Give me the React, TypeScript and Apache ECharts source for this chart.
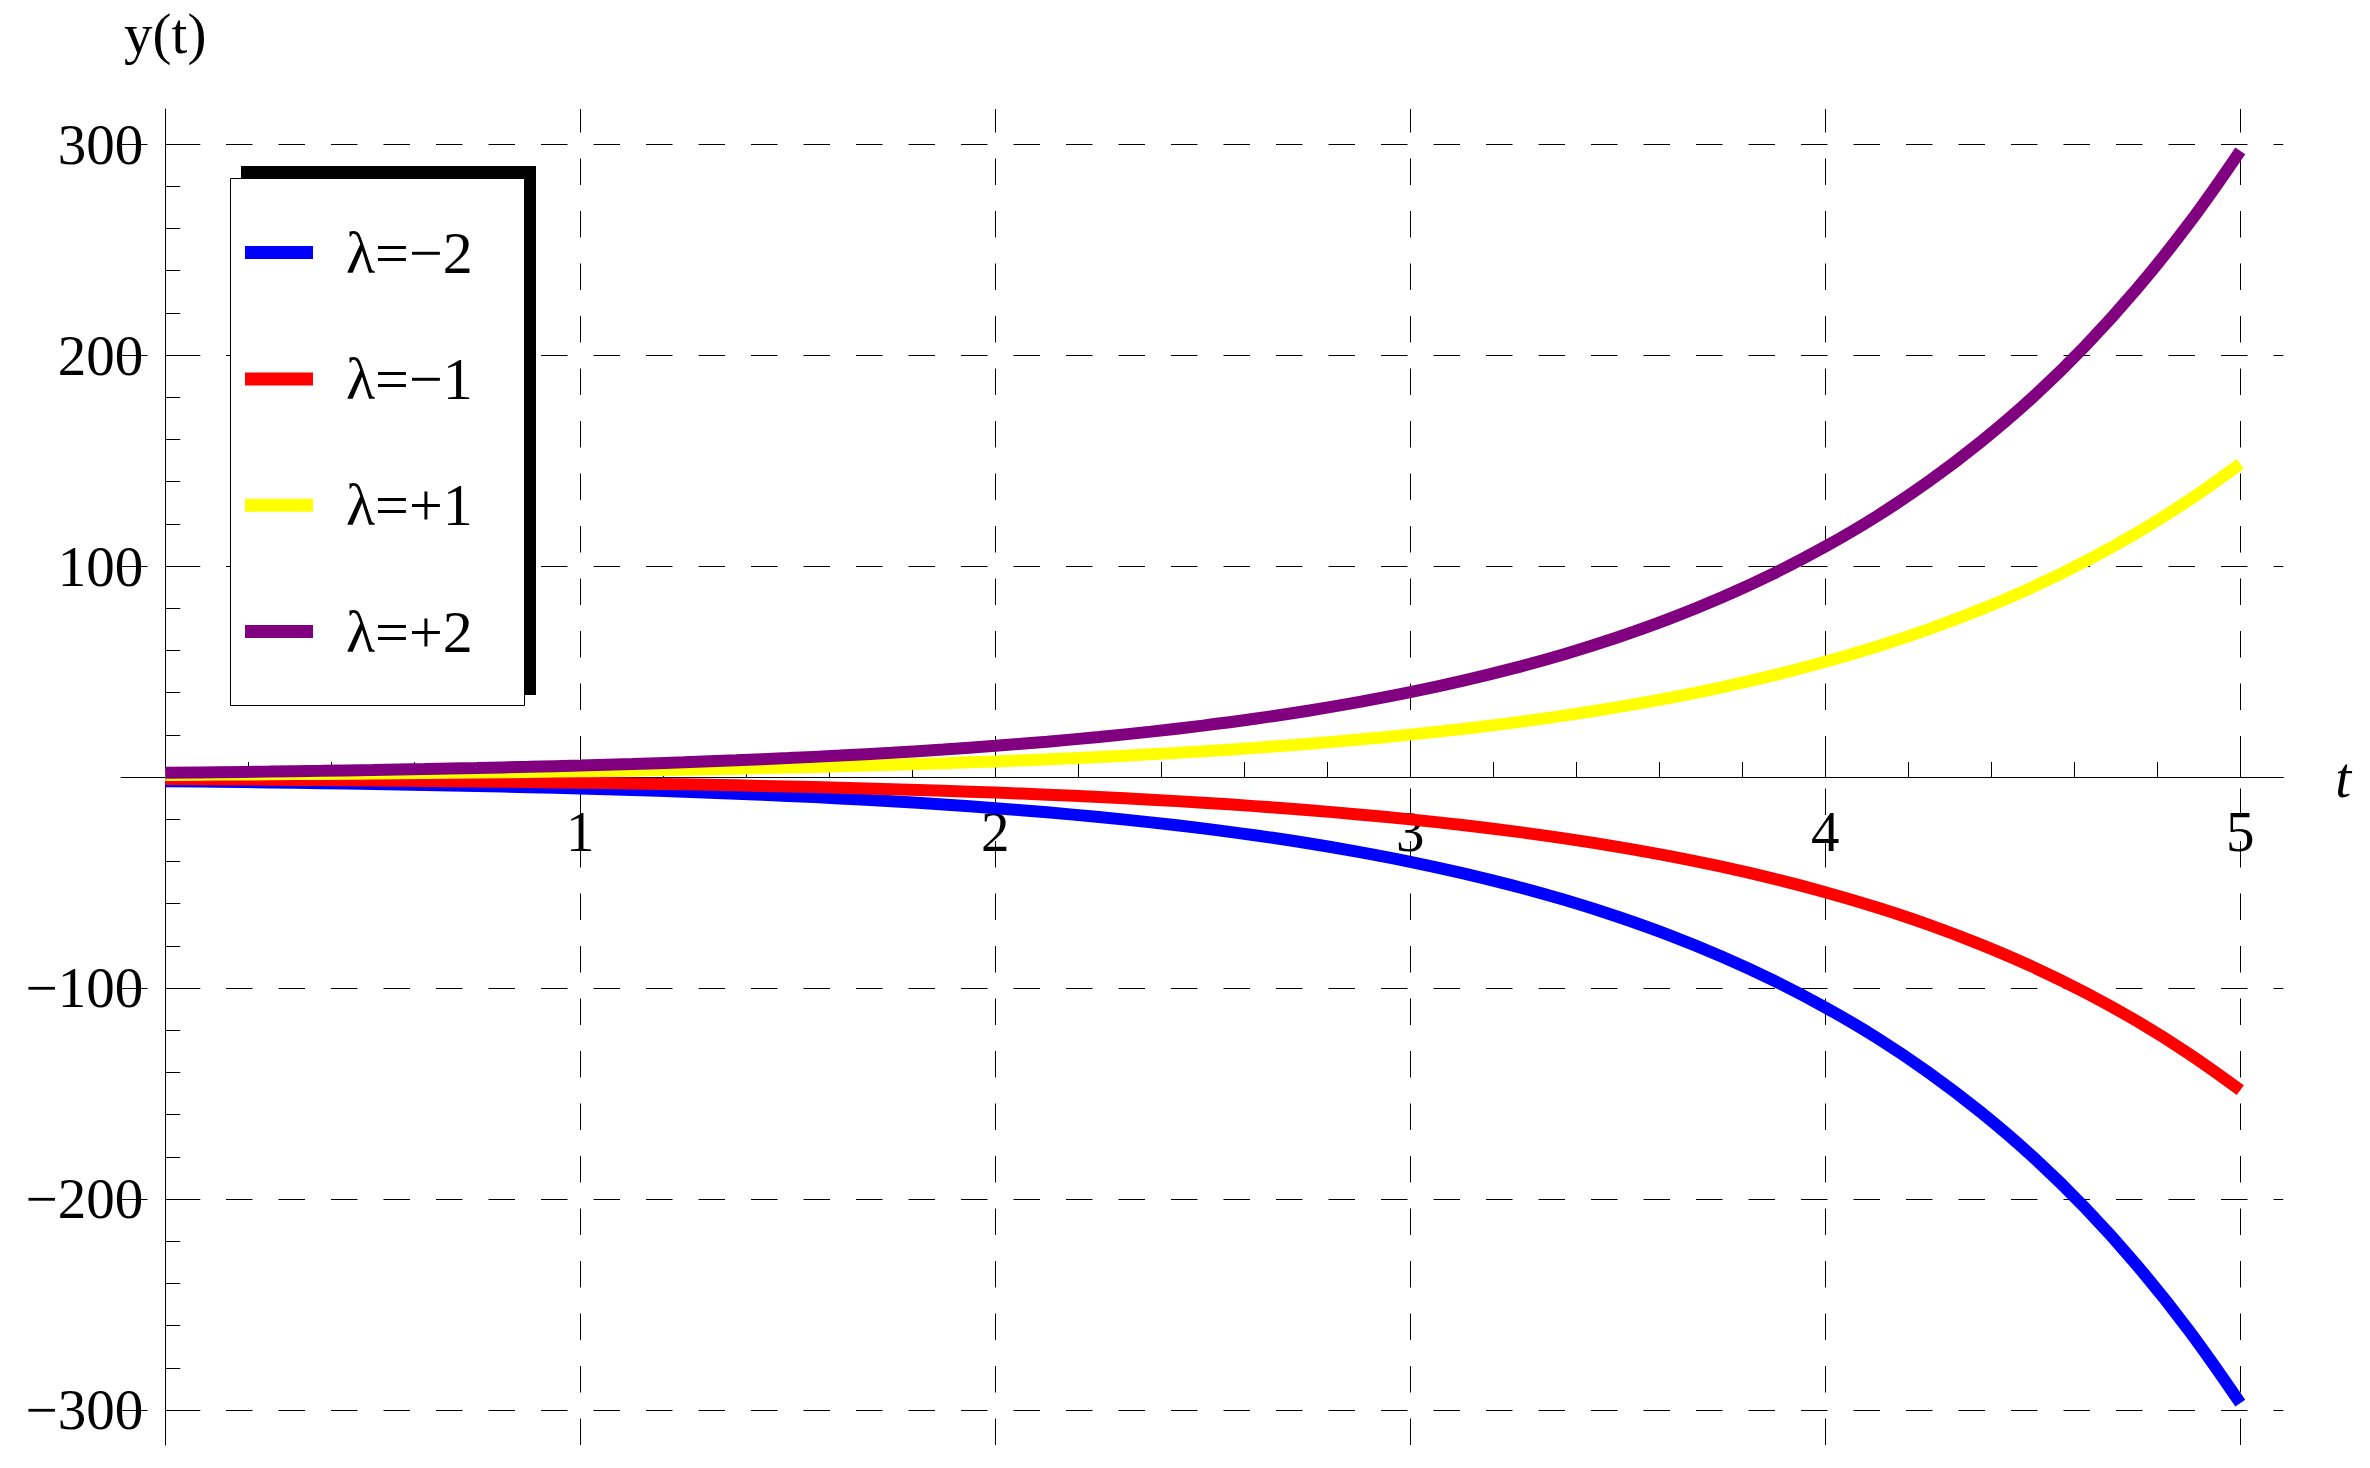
import React, { useEffect, useRef } from "react";
import * as echarts from "echarts";

// t samples (read along the horizontal axis)
const tValues = [
  0, 0.125, 0.25, 0.375, 0.5, 0.625, 0.75, 0.875, 1, 1.125, 1.25, 1.375, 1.5, 1.625, 1.75, 1.875,
  2, 2.125, 2.25, 2.375, 2.5, 2.625, 2.75, 2.875, 3, 3.125, 3.25, 3.375, 3.5, 3.625, 3.75, 3.875,
  4, 4.125, 4.25, 4.375, 4.5, 4.625, 4.75, 4.875, 5,
];

// values
const yLamMinus2 = [
  -2, -2.27, -2.57, -2.91, -3.3, -3.74, -4.23, -4.8, -5.44, -6.16, -6.98, -7.91, -8.96, -10.16, -11.5, -13.04,
  -14.78, -16.75, -18.98, -21.5, -24.36, -27.6, -31.28, -35.46, -40.17, -45.52, -51.58, -58.44, -66.23, -75.04, -85.04, -96.36,
  -109.2, -123.7, -140.2, -158.9, -180, -204, -231.2, -262, -296.8,
];
const yLamMinus1 = [
  -1, -1.13, -1.28, -1.46, -1.65, -1.87, -2.12, -2.4, -2.72, -3.08, -3.49, -3.96, -4.48, -5.08, -5.75, -6.52,
  -7.39, -8.37, -9.49, -10.75, -12.18, -13.8, -15.64, -17.73, -20.09, -22.76, -25.79, -29.22, -33.12, -37.52, -42.52, -48.18,
  -54.6, -61.87, -70.1, -79.44, -90, -102, -115.6, -131, -148.4,
];
const yLamPlus1 = [
  1, 1.13, 1.28, 1.46, 1.65, 1.87, 2.12, 2.4, 2.72, 3.08, 3.49, 3.96, 4.48, 5.08, 5.75, 6.52,
  7.39, 8.37, 9.49, 10.75, 12.18, 13.8, 15.64, 17.73, 20.09, 22.76, 25.79, 29.22, 33.12, 37.52, 42.52, 48.18,
  54.6, 61.87, 70.1, 79.44, 90, 102, 115.6, 131, 148.4,
];
const yLamPlus2 = [
  2, 2.27, 2.57, 2.91, 3.3, 3.74, 4.23, 4.8, 5.44, 6.16, 6.98, 7.91, 8.96, 10.16, 11.5, 13.04,
  14.78, 16.75, 18.98, 21.5, 24.36, 27.6, 31.28, 35.46, 40.17, 45.52, 51.58, 58.44, 66.23, 75.04, 85.04, 96.36,
  109.2, 123.7, 140.2, 158.9, 180, 204, 231.2, 262, 296.8,
];

const seriesNames = ["λ=\u22122", "λ=\u22121", "λ=+1", "λ=+2"];
const seriesColors = ["#0000ff", "#ff0000", "#ffff00", "#800080"];
const seriesValues = [yLamMinus2, yLamMinus1, yLamPlus1, yLamPlus2];

const xTickValues = [1, 2, 3, 4, 5];
const yTickValues = [-300, -200, -100, 100, 200, 300];

const X_MIN = -0.1067;
const X_MAX = 5.1036;
const Y_MIN = -316.6;
const Y_MAX = 316.6;

const FONT = "'Liberation Serif', 'Times New Roman', serif";

const GRID = { left: 121, right: 86.7, top: 109, bottom: 23 };
const W = 2370;
const H = 1468;

export default function App() {
  const ref = useRef<HTMLDivElement>(null);

  useEffect(() => {
    if (!ref.current) return;
    const chart = echarts.init(ref.current, null, { renderer: "svg" });

    // place the axis lines through the origin by offsetting them from the grid edges
    const gridW = W - GRID.left - GRID.right;
    const gridH = H - GRID.top - GRID.bottom;
    const yAxisOffset = -((0 - X_MIN) / (X_MAX - X_MIN)) * gridW;
    const xAxisOffset = -((0 - Y_MIN) / (Y_MAX - Y_MIN)) * gridH;

    const series = seriesNames.map((name, i) => ({
      name,
      type: "line",
      data: tValues.map((t, k) => [t, seriesValues[i][k]]),
      showSymbol: false,
      symbol: "none",
      smooth: 0.4,
      lineStyle: { color: seriesColors[i], width: 12, cap: "butt" },
      itemStyle: { color: seriesColors[i] },
      z: 2 + i,
    }));

    chart.setOption({
      animation: false,
      backgroundColor: "#ffffff",
      grid: {
        left: GRID.left,
        right: GRID.right,
        top: GRID.top,
        bottom: GRID.bottom,
        containLabel: false,
        outerBoundsMode: "none",
      },
      xAxis: {
        type: "value",
        position: "bottom",
        offset: xAxisOffset,
        min: X_MIN,
        max: X_MAX,
        minInterval: 1,
        maxInterval: 1,
        name: "t",
        nameLocation: "end",
        nameGap: 52,
        nameTextStyle: { fontFamily: FONT, fontSize: 57, fontStyle: "italic", color: "#000" },
        axisLine: { show: true, onZero: false, lineStyle: { color: "#000", width: 1 } },
        axisTick: { show: true, inside: true, length: 35, customValues: xTickValues, lineStyle: { color: "#000", width: 1 } },
        minorTick: { show: true, splitNumber: 5, length: 15, lineStyle: { color: "#000", width: 1 } },
        axisLabel: {
          show: true,
          customValues: xTickValues,
          margin: 26,
          fontFamily: FONT,
          fontSize: 57,
          color: "#000",
          formatter: (v: number) => String(v),
        },
        splitLine: {
          show: true,
          lineStyle: { color: "#000", width: 1, type: [26.5, 26], dashOffset: 2.5 },
        },
      },
      yAxis: {
        type: "value",
        position: "left",
        offset: yAxisOffset,
        min: Y_MIN,
        max: Y_MAX,
        minInterval: 100,
        maxInterval: 100,
        name: "y(t)",
        nameLocation: "end",
        nameGap: 47,
        nameTextStyle: { fontFamily: FONT, fontSize: 57, color: "#000", align: "center" },
        axisLine: { show: true, onZero: false, lineStyle: { color: "#000", width: 1 } },
        axisTick: { show: true, inside: true, length: 35, customValues: yTickValues, lineStyle: { color: "#000", width: 1 } },
        minorTick: { show: true, splitNumber: 5, length: 15, lineStyle: { color: "#000", width: 1 } },
        axisLabel: {
          show: true,
          customValues: yTickValues,
          margin: 22,
          fontFamily: FONT,
          fontSize: 57,
          color: "#000",
          formatter: (v: number) => (v < 0 ? "\u2212" + Math.abs(v) : String(v)),
        },
        splitLine: {
          show: true,
          lineStyle: { color: "#000", width: 1, type: [26.5, 26], dashOffset: 0 },
        },
      },
      legend: {
        show: true,
        orient: "vertical",
        left: 245,
        top: 222.6,
        padding: 0,
        itemWidth: 68,
        itemHeight: 13,
        itemGap: 66.3,
        icon: "rect",
        selectedMode: false,
        z: 30,
        data: seriesNames,
        textStyle: {
          fontFamily: FONT,
          fontSize: 60,
          lineHeight: 60,
          color: "#000",
          padding: [0, 0, 0, 28],
        },
      },
      graphic: [
        {
          type: "rect",
          z: 20,
          shape: { x: 241, y: 166, width: 295, height: 529 },
          style: { fill: "#000" },
        },
        {
          type: "rect",
          z: 21,
          shape: { x: 230.5, y: 178.5, width: 294, height: 527 },
          style: { fill: "#fff", stroke: "#000", lineWidth: 1 },
        },
      ],
      series,
    });

    return () => chart.dispose();
  }, []);

  return (
    <div
      ref={ref}
      style={{ position: "fixed", left: 0, top: 0, width: W, height: H, background: "#fff" }}
    />
  );
}
